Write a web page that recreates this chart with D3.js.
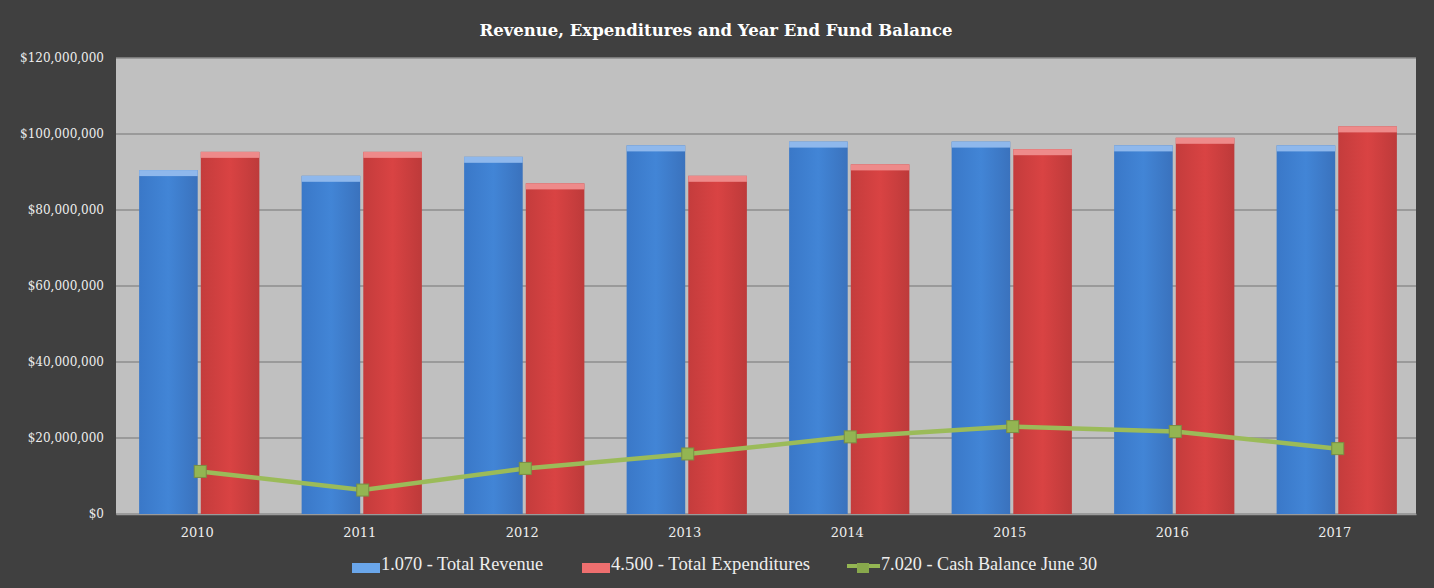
<!DOCTYPE html>
<html>
<head>
<meta charset="utf-8">
<script src="https://cdn.jsdelivr.net/npm/d3@7"></script>
<style>
  body { margin: 0; background: #404040; }
</style>
</head>
<body>
<div class="chart"></div>
<script>
// Chart data
const years = ["2010", "2011", "2012", "2013", "2014", "2015", "2016", "2017"];
const revenue = [90.5, 89, 94, 97, 98, 98, 97, 97].map(v => v * 1e6);
const expenditures = [95.3, 95.3, 87, 89, 92, 96, 99, 102].map(v => v * 1e6);
const cashBalance = [11.2, 6.3, 12, 15.8, 20.3, 23, 21.7, 17.2].map(v => v * 1e6);
const yTicks = [0, 20e6, 40e6, 60e6, 80e6, 100e6, 120e6];
const seriesNames = ["1.070 - Total Revenue", "4.500 - Total Expenditures", "7.020 - Cash Balance June 30"];

const width = 1434, height = 588;
const margin = { top: 58, right: 18, bottom: 74, left: 116 };
const plotW = width - margin.left - margin.right;
const plotH = height - margin.top - margin.bottom;

const svg = d3.select(".chart")
    .append("svg")
    .attr("width", width)
    .attr("height", height)
    .style("display", "block");

svg.append("rect")
    .attr("width", width)
    .attr("height", height)
    .attr("fill", "#404040");

// gradients for bars
const defs = svg.append("defs");
const blueGrad = defs.append("linearGradient").attr("id", "blueGrad")
    .attr("x1", 0).attr("x2", 1).attr("y1", 0).attr("y2", 0);
blueGrad.append("stop").attr("offset", "0%").attr("stop-color", "#3a78c8");
blueGrad.append("stop").attr("offset", "50%").attr("stop-color", "#4285d6");
blueGrad.append("stop").attr("offset", "100%").attr("stop-color", "#3a72bd");
const redGrad = defs.append("linearGradient").attr("id", "redGrad")
    .attr("x1", 0).attr("x2", 1).attr("y1", 0).attr("y2", 0);
redGrad.append("stop").attr("offset", "0%").attr("stop-color", "#c43c3c");
redGrad.append("stop").attr("offset", "50%").attr("stop-color", "#d94343");
redGrad.append("stop").attr("offset", "100%").attr("stop-color", "#bd3a3a");

const g = svg.append("g")
    .attr("transform", "translate(" + margin.left + "," + margin.top + ")");

// plot background
g.append("rect")
    .attr("width", plotW)
    .attr("height", plotH)
    .attr("fill", "#c0c0c0");

// Scales
const xScale = d3.scaleBand()
    .domain(years)
    .range([0, plotW])
    .paddingInner(0.26)
    .paddingOuter(0.13);
const sub = d3.scaleBand()
    .domain(["rev", "exp"])
    .range([0, xScale.bandwidth()])
    .paddingInner(0.05);
const yScale = d3.scaleLinear()
    .domain([0, 120e6])
    .range([plotH, 0]);

// Gridlines
g.append("g")
    .selectAll("line")
    .data(yTicks)
    .join("line")
    .attr("x1", 0)
    .attr("x2", plotW)
    .attr("y1", d => yScale(d))
    .attr("y2", d => yScale(d))
    .attr("stroke", "#8e8e8e")
    .attr("stroke-width", 1.5);

// Y axis labels
const yAxis = d3.axisLeft(yScale)
    .tickValues(yTicks)
    .tickFormat(d => "$" + d3.format(",")(d))
    .tickSize(0)
    .tickPadding(12);
g.append("g")
    .call(yAxis)
    .call(a => a.select(".domain").remove())
    .selectAll("text")
    .attr("fill", "#eeeeee")
    .style("font-family", "'DejaVu Serif', 'Liberation Serif', serif")
    .style("font-size", "12px");

// X axis labels
const xAxis = d3.axisBottom(xScale).tickSize(0).tickPadding(14);
g.append("g")
    .attr("transform", "translate(0," + plotH + ")")
    .call(xAxis)
    .call(a => a.select(".domain").attr("stroke", "#9a9a9a").attr("stroke-width", 1.5))
    .selectAll("text")
    .attr("fill", "#eeeeee")
    .style("font-family", "'DejaVu Serif', 'Liberation Serif', serif")
    .style("font-size", "13px");

// Bars (shifted slightly right of the band like the original)
const groups = g.append("g")
    .selectAll("g")
    .data(years)
    .join("g")
    .attr("transform", d => "translate(" + (xScale(d) + 2) + ",0)");

groups.append("rect")
    .attr("x", sub("rev"))
    .attr("y", (d, i) => yScale(revenue[i]))
    .attr("width", sub.bandwidth())
    .attr("height", (d, i) => plotH - yScale(revenue[i]))
    .attr("fill", "url(#blueGrad)");
groups.append("rect")
    .attr("x", sub("rev"))
    .attr("y", (d, i) => yScale(revenue[i]))
    .attr("width", sub.bandwidth())
    .attr("height", 6)
    .attr("fill", "#8fb8ec");

groups.append("rect")
    .attr("x", sub("exp"))
    .attr("y", (d, i) => yScale(expenditures[i]))
    .attr("width", sub.bandwidth())
    .attr("height", (d, i) => plotH - yScale(expenditures[i]))
    .attr("fill", "url(#redGrad)");
groups.append("rect")
    .attr("x", sub("exp"))
    .attr("y", (d, i) => yScale(expenditures[i]))
    .attr("width", sub.bandwidth())
    .attr("height", 6)
    .attr("fill", "#ee8a8a");

// Cash balance line
const cx = d => xScale(d) + xScale.bandwidth() / 2 + 3;
const line = d3.line()
    .x(d => cx(d))
    .y((d, i) => yScale(cashBalance[i]));
g.append("path")
    .datum(years)
    .attr("d", line)
    .attr("fill", "none")
    .attr("stroke", "#9bbb59")
    .attr("stroke-width", 4.5);

g.append("g")
    .selectAll("rect")
    .data(years)
    .join("rect")
    .attr("x", d => cx(d) - 6)
    .attr("y", (d, i) => yScale(cashBalance[i]) - 6)
    .attr("width", 12)
    .attr("height", 12)
    .attr("fill", "#93b552")
    .attr("stroke", "#7a8f44")
    .attr("stroke-width", 1);

// Title
svg.append("text")
    .attr("x", width / 2 - 1)
    .attr("y", 36)
    .attr("text-anchor", "middle")
    .text("Revenue, Expenditures and Year End Fund Balance")
    .attr("fill", "#ffffff")
    .style("font-family", "'DejaVu Serif', 'Liberation Serif', serif")
    .style("font-size", "16.5px")
    .style("font-weight", "bold");

// Legend
const legendItems = [
    { name: seriesNames[0], x: 352, w: 28, tw: 162, color: "#6aa6ea", type: "bar" },
    { name: seriesNames[1], x: 582, w: 28, tw: 199, color: "#ee6f6f", type: "bar" },
    { name: seriesNames[2], x: 847, w: 33, tw: 216, color: "#94b653", type: "line" }
];
const legend = svg.append("g").attr("transform", "translate(0,570)");
legendItems.forEach(it => {
    if (it.type === "bar") {
        legend.append("rect")
            .attr("x", it.x)
            .attr("y", -7)
            .attr("width", it.w)
            .attr("height", 10)
            .attr("fill", it.color);
    } else {
        legend.append("line")
            .attr("x1", it.x).attr("x2", it.x + it.w)
            .attr("y1", -4).attr("y2", -4)
            .attr("stroke", it.color).attr("stroke-width", 4);
        legend.append("rect")
            .attr("x", it.x + 10).attr("y", -7)
            .attr("width", 12).attr("height", 10)
            .attr("fill", "#88a84c");
    }
    legend.append("text")
        .attr("x", it.x + it.w + 1)
        .attr("y", 0)
        .text(it.name)
        .attr("textLength", it.tw)
        .attr("lengthAdjust", "spacingAndGlyphs")
        .attr("fill", "#eeeeee")
        .style("font-family", "'Liberation Serif', serif")
        .style("font-size", "18px");
});
</script>
</body>
</html>
